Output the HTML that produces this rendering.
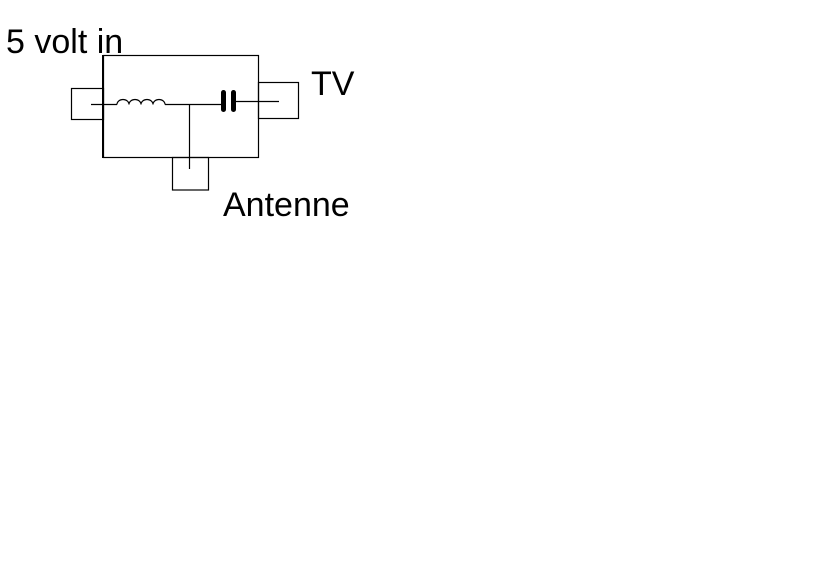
<!DOCTYPE html>
<html>
<head>
<meta charset="utf-8">
<style>
  html,body{margin:0;padding:0;background:#fff;}
  body{width:821px;height:584px;overflow:hidden;}
  svg{display:block;}
  text{font-family:"Liberation Sans",Arial,sans-serif;fill:#000;}
</style>
</head>
<body>
<svg width="821" height="584" viewBox="0 0 821 584" xmlns="http://www.w3.org/2000/svg">
  <rect x="0" y="0" width="821" height="584" fill="#fff"/>
  <g fill="none" stroke="#000" stroke-width="1.2">
    <!-- main box -->
    <rect x="103.5" y="55.5" width="155" height="102"/>
    <line x1="103" y1="55" x2="103" y2="158" stroke-width="2"/>
    <!-- left connector box -->
    <rect x="71.5" y="88.5" width="32" height="31"/>
    <!-- TV box -->
    <rect x="258.5" y="82.5" width="40" height="36"/>
    <!-- antenna box -->
    <rect x="172.5" y="157.5" width="36" height="32.5"/>
    <!-- left wire -->
    <line x1="91" y1="104.5" x2="117" y2="104.5"/>
    <!-- inductor -->
    <path d="M117 104.5 A6 5 0 0 1 129 104.5 A6 5 0 0 1 141 104.5 A6 5 0 0 1 153 104.5 A6 5 0 0 1 165 104.5"/>
    <!-- wire to capacitor -->
    <line x1="165" y1="104.5" x2="222" y2="104.5"/>
    <!-- vertical to antenna -->
    <line x1="189.5" y1="104.5" x2="189.5" y2="169"/>
    <!-- right wire -->
    <line x1="234" y1="101.5" x2="279" y2="101.5"/>
  </g>
  <!-- capacitor plates -->
  <g stroke="#000" stroke-width="5" stroke-linecap="round" fill="none">
    <line x1="223.5" y1="92.5" x2="223.5" y2="109.5"/>
    <line x1="233.5" y1="92.5" x2="233.5" y2="109.5"/>
  </g>
  <text x="6" y="53" font-size="34">5 volt in</text>
  <text x="311" y="95" font-size="34">TV</text>
  <text x="223" y="216" font-size="34">Antenne</text>
</svg>
</body>
</html>
